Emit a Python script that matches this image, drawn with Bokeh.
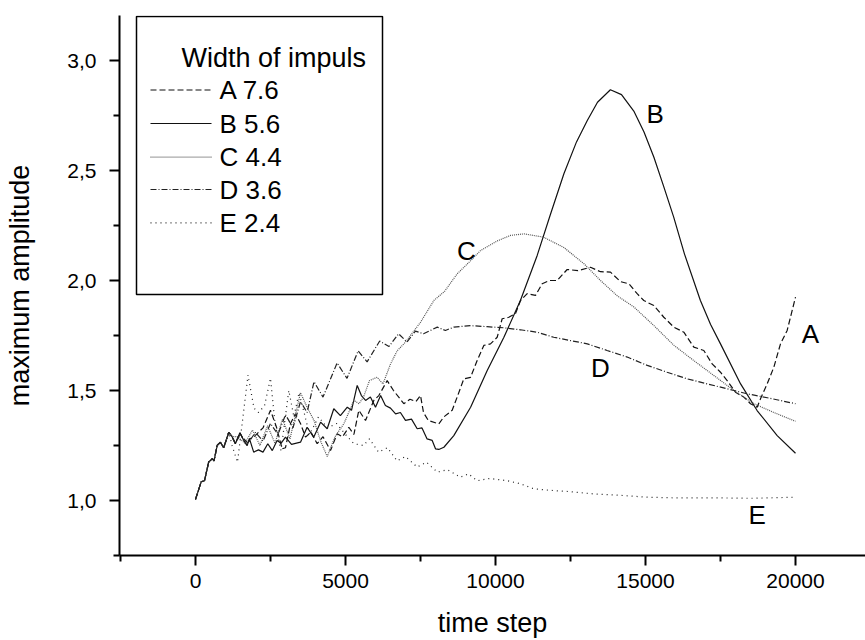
from bokeh.plotting import figure
from bokeh.models import Range1d, FixedTicker, CustomJSTickFormatter, BoxAnnotation, Label
from bokeh.embed import file_html
from bokeh.resources import INLINE

# ---------------- data ----------------
x_ticks = [0, 5000, 10000, 15000, 20000]
x_minor = [-2500, 2500, 7500, 12500, 17500, 22500]
y_ticks = [1.0, 1.5, 2.0, 2.5, 3.0]
y_minor = [0.75, 1.25, 1.75, 2.25, 2.75, 3.25]

legend_title = "Width of impuls"
series_names = ["A 7.6", "B 5.6", "C 4.4", "D 3.6", "E 2.4"]
curve_tags = ["A", "B", "C", "D", "E"]
tag_x = [20500, 15320, 9030, 13500, 18720]
tag_y = [1.758, 2.758, 2.133, 1.603, 0.936]

xA = [0, 190, 300, 440, 560, 620, 720, 830, 940, 1110, 1220, 1330, 1480, 1610, 1720, 1800, 1944, 2100, 2250, 2500,
      2700, 2889, 3000, 3167, 3333, 3500, 3667, 3850, 4056, 4250, 4500, 4722, 4900, 5111, 5280, 5444, 5667, 5944, 6111, 6389,
      6600, 6944, 7150, 7350, 7500, 7600, 7760, 8111, 8278, 8556, 8722, 8944, 9167, 9389, 9611, 9833, 10056, 10222, 10444, 10667,
      10833, 11056, 11333, 11556, 11800, 12056, 12389, 12750, 13167, 13500, 13833, 14167, 14450, 14722, 14944, 15278, 15611, 15944, 16278, 16611,
      16944, 17222, 17500, 17722, 18000, 18278, 18500, 18722, 18833, 19056, 19278, 19500, 19722, 20000]
yA = [1.005, 1.085, 1.09, 1.175, 1.19, 1.18, 1.25, 1.265, 1.24, 1.31, 1.29, 1.258, 1.308, 1.273, 1.25, 1.28, 1.288, 1.31, 1.33, 1.41,
      1.333, 1.235, 1.24, 1.35, 1.394, 1.35, 1.288, 1.31, 1.258, 1.29, 1.227, 1.303, 1.29, 1.333, 1.30, 1.41, 1.364, 1.455, 1.477, 1.545,
      1.50, 1.44, 1.46, 1.45, 1.477, 1.40, 1.364, 1.348, 1.38, 1.41, 1.47, 1.553, 1.56, 1.636, 1.705, 1.712, 1.742, 1.826, 1.833, 1.85,
      1.909, 1.94, 1.932, 1.985, 2.0, 2.0, 2.05, 2.045, 2.06, 2.04, 2.038, 1.995, 1.985, 1.94, 1.909, 1.886, 1.833, 1.788, 1.765, 1.697,
      1.682, 1.621, 1.583, 1.545, 1.492, 1.47, 1.44, 1.424, 1.462, 1.53, 1.606, 1.712, 1.773, 1.924]

xB = [0, 190, 300, 440, 560, 620, 720, 830, 940, 1110, 1220, 1330, 1480, 1610, 1720, 1800, 1940, 2100, 2250, 2410,
      2560, 2720, 2850, 3000, 3200, 3500, 3720, 3940, 4170, 4390, 4610, 4830, 5060, 5200, 5390, 5530, 5670, 5830, 6000, 6170,
      6330, 6500, 6670, 6830, 7000, 7200, 7390, 7550, 7720, 7890, 8000, 8110, 8280, 8610, 9170, 9720, 10280, 10830, 11390, 11830,
      12280, 12700, 13060, 13400, 13830, 14200, 14610, 14950, 15280, 15600, 15940, 16300, 16830, 17170, 17500, 18170, 18720, 19390, 20000]
yB = [1.005, 1.085, 1.09, 1.175, 1.19, 1.18, 1.25, 1.265, 1.24, 1.31, 1.29, 1.258, 1.308, 1.273, 1.25, 1.28, 1.22, 1.23, 1.22, 1.258,
      1.227, 1.273, 1.26, 1.288, 1.255, 1.265, 1.333, 1.288, 1.356, 1.326, 1.417, 1.386, 1.424, 1.41, 1.523, 1.477, 1.455, 1.47, 1.424, 1.477,
      1.432, 1.42, 1.394, 1.40, 1.364, 1.37, 1.326, 1.33, 1.28, 1.273, 1.235, 1.232, 1.242, 1.295, 1.424, 1.59, 1.742, 1.909, 2.114, 2.30,
      2.485, 2.63, 2.727, 2.81, 2.867, 2.845, 2.77, 2.675, 2.56, 2.43, 2.288, 2.12, 1.909, 1.80, 1.712, 1.53, 1.409, 1.295, 1.215]

xC = [0, 190, 300, 440, 560, 620, 720, 830, 940, 1110, 1220, 1400, 1650, 1900, 2150, 2400, 2650, 2900, 3150, 3500,
      3720, 3950, 4170, 4390, 4650, 4950, 5280, 5450, 5600, 5800, 6050, 6250, 6500, 6720, 7000, 7220, 7500, 7950, 8300, 8720,
      9170, 9500, 10060, 10500, 10950, 11600, 12280, 12950, 13500, 14060, 14610, 15280, 15950, 16610, 17280, 17950, 18610, 19280, 20000]
yC = [1.005, 1.085, 1.09, 1.175, 1.19, 1.18, 1.25, 1.265, 1.24, 1.31, 1.29, 1.29, 1.26, 1.32, 1.25, 1.34, 1.26, 1.37, 1.28, 1.49,
      1.424, 1.364, 1.27, 1.20, 1.29, 1.35, 1.455, 1.44, 1.47, 1.545, 1.56, 1.53, 1.62, 1.68, 1.72, 1.76, 1.81, 1.91, 1.95, 2.03,
      2.09, 2.136, 2.18, 2.205, 2.212, 2.197, 2.15, 2.076, 2.0, 1.93, 1.88, 1.795, 1.705, 1.636, 1.568, 1.5, 1.44, 1.40, 1.36]

xD = [0, 190, 300, 440, 560, 620, 720, 830, 940, 1110, 1220, 1330, 1480, 1750, 2000, 2250, 2500, 2750, 3000, 3250,
      3500, 3720, 3950, 4250, 4720, 5050, 5420, 5720, 6140, 6450, 6770, 7050, 7330, 7600, 8060, 8330, 8610, 9170, 9720, 10280,
      10830, 11390, 11940, 12500, 13060, 13720, 14390, 15060, 15720, 16390, 17060, 17720, 18390, 19060, 20000]
yD = [1.005, 1.085, 1.09, 1.175, 1.19, 1.18, 1.25, 1.265, 1.24, 1.31, 1.29, 1.258, 1.30, 1.26, 1.31, 1.27, 1.35, 1.30, 1.39, 1.33,
      1.45, 1.40, 1.54, 1.47, 1.625, 1.555, 1.68, 1.63, 1.725, 1.70, 1.758, 1.72, 1.77, 1.758, 1.788, 1.773, 1.788, 1.795, 1.79, 1.785,
      1.776, 1.765, 1.742, 1.727, 1.712, 1.682, 1.652, 1.614, 1.583, 1.553, 1.53, 1.508, 1.485, 1.467, 1.44]

xE = [0, 190, 300, 440, 560, 620, 720, 830, 940, 1110, 1220, 1400, 1600, 1750, 1950, 2100, 2300, 2500, 2650, 2850,
      3110, 3280, 3450, 3620, 3800, 4100, 4400, 4700, 5000, 5280, 5600, 5800, 6100, 6400, 6720, 7000, 7390, 7700, 8060, 8400,
      8830, 9100, 9390, 9800, 10390, 10830, 11280, 11940, 12500, 13280, 14000, 15060, 16000, 17280, 18500, 20000]
yE = [1.005, 1.085, 1.09, 1.175, 1.19, 1.18, 1.25, 1.265, 1.24, 1.31, 1.25, 1.174, 1.40, 1.57, 1.42, 1.40, 1.43, 1.556, 1.35, 1.227,
      1.50, 1.38, 1.49, 1.40, 1.30, 1.38, 1.33, 1.35, 1.30, 1.258, 1.25, 1.28, 1.22, 1.24, 1.18, 1.20, 1.152, 1.174, 1.129, 1.14,
      1.106, 1.121, 1.09, 1.10, 1.09, 1.076, 1.053, 1.045, 1.04, 1.03, 1.025, 1.015, 1.012, 1.012, 1.01, 1.015]

# ---------------- styling / layout ----------------
FONT = "Liberation Sans"
dashes = ["6 3", "solid", "1 1", "6 2 1 2", "1 4"]
colors = ["#111111", "#111111", "#555555", "#222222", "#222222"]
series = [(xA, yA), (xB, yB), (xC, yC), (xD, yD), (xE, yE)]

# pixel -> data helpers used only for placing decoration (legend box)
def sx(px):
    return (px - 195) / 150 * 5000

def sy(py):
    return 1 + (500 - py) / 220

p = figure(width=865, height=640,
           x_range=Range1d(sx(119), sx(865)), y_range=Range1d(sy(555), sy(15)),
           output_backend="svg", toolbar_location=None,
           min_border_left=119, min_border_right=0, min_border_top=15, min_border_bottom=85)
p.grid.visible = False
p.outline_line_color = None
p.background_fill_color = "white"
p.border_fill_color = "white"

p.xaxis.ticker = FixedTicker(ticks=x_ticks, minor_ticks=x_minor)
p.yaxis.ticker = FixedTicker(ticks=y_ticks, minor_ticks=y_minor)
p.yaxis.formatter = CustomJSTickFormatter(code="return tick.toFixed(1).replace('.', ',');")
p.xaxis.axis_label = "time step"
p.yaxis.axis_label = "maximum amplitude"

for ax in (p.xaxis[0], p.yaxis[0]):
    ax.axis_line_width = 2
    ax.axis_line_color = "black"
    ax.major_tick_out = 10
    ax.major_tick_in = 0
    ax.minor_tick_out = 6
    ax.minor_tick_in = 0
    ax.major_tick_line_width = 2
    ax.minor_tick_line_width = 2
    ax.major_tick_line_color = "black"
    ax.minor_tick_line_color = "black"
    ax.major_label_text_font = FONT
    ax.major_label_text_font_size = "21px"
    ax.major_label_text_color = "black"
    ax.axis_label_text_font = FONT
    ax.axis_label_text_font_size = "27px"
    ax.axis_label_text_font_style = "normal"
    ax.axis_label_text_color = "black"

p.xaxis.major_label_standoff = 8
p.xaxis.axis_label_standoff = 17
p.yaxis.major_label_standoff = 13
p.yaxis.axis_label_standoff = 29

for (xs, ys), d, c in zip(series, dashes, colors):
    p.line(xs, ys, line_color=c, line_width=1.2, line_dash=d)

# curve tags
for t, tx, ty in zip(curve_tags, tag_x, tag_y):
    p.add_layout(Label(x=tx, y=ty, text=t, text_font=FONT, text_font_size="26px",
                       text_align="center", text_baseline="middle", text_color="black"))

# legend box (drawn manually)
p.add_layout(BoxAnnotation(left=sx(136), right=sx(382), top=sy(16), bottom=sy(294),
                           fill_alpha=0, line_color="black", line_width=1.5, line_alpha=1))
p.add_layout(Label(x=sx(181), y=sy(57), text=legend_title, text_font=FONT, text_font_size="27px",
                   text_align="left", text_baseline="middle", text_color="black"))
row_py = [89.5, 123, 156.7, 189, 222.3]
for name, d, c, py in zip(series_names, dashes, colors, row_py):
    p.line([sx(150), sx(211)], [sy(py), sy(py)], line_color=c, line_width=1.2, line_dash=d)
    p.add_layout(Label(x=sx(219), y=sy(py), text=name, text_font=FONT, text_font_size="26px",
                       text_align="left", text_baseline="middle", text_color="black"))

open("out.html", "w").write(file_html(p, INLINE))
